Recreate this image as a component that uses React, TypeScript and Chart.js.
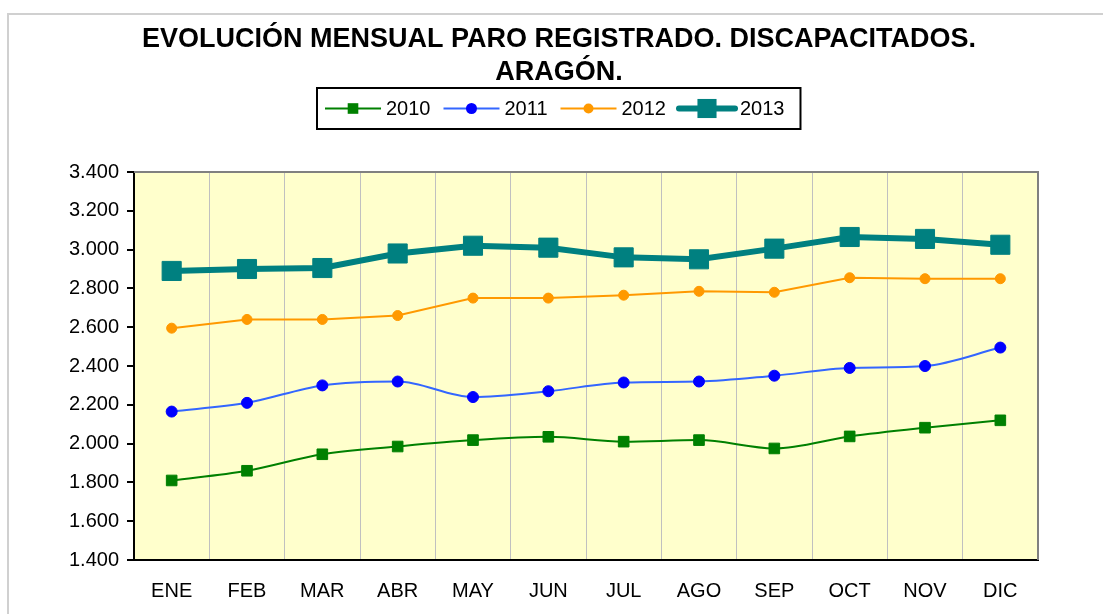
import React, { useEffect, useRef } from "react";
import { Chart, registerables } from "chart.js";

Chart.register(...registerables);

const months = ["ENE", "FEB", "MAR", "ABR", "MAY", "JUN", "JUL", "AGO", "SEP", "OCT", "NOV", "DIC"];
const seriesNames = ["2010", "2011", "2012", "2013"];
const paro2010 = [1810, 1860, 1945, 1985, 2018, 2035, 2010, 2018, 1975, 2037, 2082, 2120];
const paro2011 = [2165, 2210, 2300, 2320, 2240, 2270, 2315, 2320, 2350, 2390, 2400, 2495];
const paro2012 = [2595, 2640, 2640, 2660, 2750, 2750, 2765, 2785, 2780, 2855, 2850, 2850];
const paro2013 = [2890, 2900, 2905, 2980, 3020, 3010, 2960, 2950, 3005, 3065, 3055, 3025];
const yMin = 1400;
const yMax = 3400;
const yStep = 200;
const titleLines = ["EVOLUCIÓN MENSUAL PARO REGISTRADO. DISCAPACITADOS.", "ARAGÓN."];

const FONT = "'Liberation Sans', Arial, sans-serif";

const fmt = (v: number) => String(v).replace(/\B(?=(\d{3})+(?!\d))/g, ".");

const plotBg = {
  id: "plotBg",
  beforeDraw(chart: any) {
    const { ctx, chartArea: a } = chart;
    ctx.save();
    ctx.fillStyle = "#FFFFCC";
    ctx.fillRect(a.left, a.top, a.right - a.left, a.bottom - a.top);
    ctx.restore();
  },
  afterDraw(chart: any) {
    const { ctx, chartArea: a } = chart;
    ctx.save();
    ctx.strokeStyle = "#808080";
    ctx.lineWidth = 2;
    ctx.beginPath();
    ctx.moveTo(a.left, a.top);
    ctx.lineTo(a.right, a.top);
    ctx.lineTo(a.right, a.bottom);
    ctx.stroke();
    ctx.restore();
  },
};

const chartTitle = {
  id: "chartTitle",
  afterDraw(chart: any) {
    const { ctx } = chart;
    ctx.save();
    ctx.font = `bold 27px ${FONT}`;
    ctx.fillStyle = "#000";
    ctx.textAlign = "center";
    ctx.textBaseline = "middle";
    titleLines.forEach((t, i) => ctx.fillText(t, chart.width / 2, 40 + i * 33));
    ctx.restore();
  },
};

function drawMarker(ctx: CanvasRenderingContext2D, style: string, x: number, y: number, r: number, color: string) {
  ctx.fillStyle = color;
  if (style === "rect") {
    const s = r / Math.SQRT2;
    ctx.fillRect(x - s, y - s, 2 * s, 2 * s);
  } else {
    ctx.beginPath();
    ctx.arc(x, y, r, 0, Math.PI * 2);
    ctx.fill();
  }
}

const boxLegend = {
  id: "boxLegend",
  afterDraw(chart: any) {
    const { ctx } = chart;
    const ds = chart.data.datasets;
    ctx.save();
    ctx.font = `20px ${FONT}`;
    const lineLen = 56;
    const gapText = 5;
    const gapItem = 13;
    const padL = 8;
    const padR = 16;
    const widths = ds.map((d: any) => ctx.measureText(d.label).width);
    let total = padL + padR;
    widths.forEach((w: number, i: number) => {
      total += lineLen + gapText + w + (i < widths.length - 1 ? gapItem : 0);
    });
    const cx = chart.width / 2;
    const left = Math.round(cx - total / 2);
    const top = 88;
    const h = 41;
    ctx.strokeStyle = "#000";
    ctx.lineWidth = 2;
    ctx.strokeRect(left, top, total, h);
    const cy = top + h / 2;
    let x = left + padL;
    ds.forEach((d: any, i: number) => {
      ctx.strokeStyle = d.borderColor;
      ctx.lineWidth = d.borderWidth;
      ctx.lineCap = d.borderWidth > 3 ? "round" : "butt";
      ctx.beginPath();
      ctx.moveTo(x, cy);
      ctx.lineTo(x + lineLen, cy);
      ctx.stroke();
      drawMarker(ctx, d.pointStyle, x + lineLen / 2, cy, d.pointRadius, d.pointBackgroundColor);
      x += lineLen + gapText;
      ctx.fillStyle = "#000";
      ctx.textBaseline = "middle";
      ctx.textAlign = "left";
      ctx.fillText(d.label, x, cy + 1);
      x += widths[i] + gapItem;
    });
    ctx.restore();
  },
};

export default function App() {
  const ref = useRef<HTMLCanvasElement>(null);

  useEffect(() => {
    if (!ref.current) return;
    const chart = new Chart(ref.current, {
      type: "line",
      data: {
        labels: months,
        datasets: [
          {
            label: seriesNames[0],
            data: paro2010,
            borderColor: "#008000",
            borderWidth: 2,
            pointStyle: "rect",
            pointRadius: 7.5,
            pointBackgroundColor: "#008000",
            pointBorderColor: "#008000",
            pointBorderWidth: 1,
            cubicInterpolationMode: "monotone",
          },
          {
            label: seriesNames[1],
            data: paro2011,
            borderColor: "#3366FF",
            borderWidth: 2,
            pointStyle: "circle",
            pointRadius: 5.5,
            pointBackgroundColor: "#0000FF",
            pointBorderColor: "#0000FF",
            pointBorderWidth: 1,
            cubicInterpolationMode: "monotone",
          },
          {
            label: seriesNames[2],
            data: paro2012,
            borderColor: "#FF9900",
            borderWidth: 2,
            pointStyle: "circle",
            pointRadius: 5,
            pointBackgroundColor: "#FF9900",
            pointBorderColor: "#FF9900",
            pointBorderWidth: 1,
            tension: 0,
          },
          {
            label: seriesNames[3],
            data: paro2013,
            borderColor: "#008080",
            borderWidth: 6,
            pointStyle: "rect",
            pointRadius: 13.5,
            pointBackgroundColor: "#008080",
            pointBorderColor: "#008080",
            pointBorderWidth: 1,
            tension: 0,
          },
        ] as any,
      },
      options: {
        responsive: false,
        animation: false,
        layout: { padding: { left: 0, right: 65, top: 172, bottom: 12 } },
        plugins: {
          legend: { display: false },
          tooltip: { enabled: false },
          title: { display: false },
        },
        scales: {
          x: {
            offset: true,
            grid: { display: true, offset: true, color: "#C0C0C0", lineWidth: 1, drawTicks: false },
            border: { display: true, color: "#000", width: 2 },
            ticks: { color: "#000", font: { family: FONT, size: 20 }, padding: 19, maxRotation: 0 },
            afterFit: (scale: any) => {
              scale.height = 42;
            },
          },
          y: {
            min: yMin,
            max: yMax,
            grid: { drawOnChartArea: false, drawTicks: true, tickLength: 7, color: "#000", lineWidth: 2 },
            border: { display: true, color: "#000", width: 2 },
            ticks: {
              stepSize: yStep,
              color: "#000",
              font: { family: FONT, size: 20 },
              padding: 8,
              callback: (v: any) => fmt(Number(v)),
            },
            afterFit: (scale: any) => {
              scale.width = 119;
            },
          },
        },
      },
      plugins: [plotBg, chartTitle, boxLegend],
    });
    return () => chart.destroy();
  }, []);

  return (
    <div style={{ position: "fixed", left: 0, top: 0, width: 1103, height: 614, background: "#fff", overflow: "hidden" }}>
      <div
        style={{
          position: "absolute",
          left: 7,
          top: 13,
          width: 1200,
          height: 700,
          borderLeft: "2px solid #d0d0d0",
          borderTop: "2px solid #d0d0d0",
        }}
      />
      <div style={{ position: "absolute", left: 15, top: 0, width: 1088, height: 614 }}>
        <canvas ref={ref} width={1088} height={614} style={{ width: 1088, height: 614 }} />
      </div>
    </div>
  );
}
